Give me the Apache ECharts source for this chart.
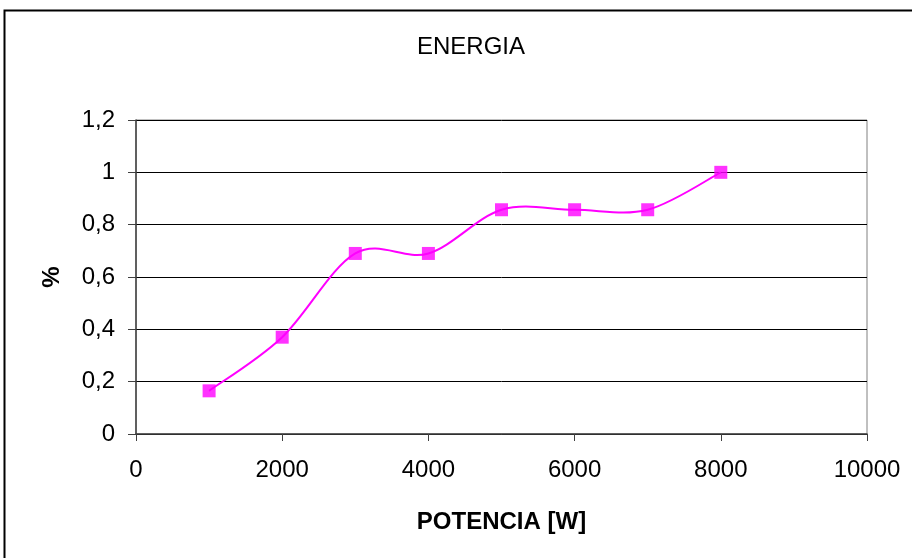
<!DOCTYPE html>
<html><head><meta charset="utf-8">
<script src="https://cdn.jsdelivr.net/npm/echarts@6/dist/echarts.min.js"></script>
<style>html,body{margin:0;padding:0;background:#fff}#c{width:912px;height:558px}</style>
</head><body><div id="c"></div>
<script>
const title = 'ENERGIA';
const xName = 'POTENCIA [W]';
const yName = '%';
const potencia = [1000, 2000, 3000, 4000, 5000, 6000, 7000, 8000];
const energia = [0.165, 0.37, 0.69, 0.69, 0.857, 0.857, 0.857, 1.0];

const chart = echarts.init(document.getElementById('c'));
const font = "'Liberation Sans', Arial, sans-serif";

// Excel-style (Catmull-Rom) smoothed line through the data, via axis coordinates
function renderSmooth(params, api) {
  const pts = potencia.map((x, i) => api.coord([x, energia[i]]));
  let d = 'M' + pts[0][0] + ' ' + pts[0][1];
  for (let i = 0; i < pts.length - 1; i++) {
    const p0 = pts[Math.max(i - 1, 0)], p1 = pts[i], p2 = pts[i + 1], p3 = pts[Math.min(i + 2, pts.length - 1)];
    const c1x = p1[0] + (p2[0] - p0[0]) / 6, c1y = p1[1] + (p2[1] - p0[1]) / 6;
    const c2x = p2[0] - (p3[0] - p1[0]) / 6, c2y = p2[1] - (p3[1] - p1[1]) / 6;
    d += ' C' + c1x + ' ' + c1y + ' ' + c2x + ' ' + c2y + ' ' + p2[0] + ' ' + p2[1];
  }
  return {type: 'path', shape: {pathData: d},
    style: {fill: null, stroke: '#ff00ff', lineWidth: 2}};
}

chart.setOption({
  animation: false,
  backgroundColor: '#fff',
  title: {text: title, left: 466, top: 30, textAlign: 'center',
    textStyle: {fontFamily: font, fontSize: 24, fontWeight: 'normal', color: '#000'}},
  grid: {left: 136, right: 45, top: 120, bottom: 124, show: true, borderColor: '#808080', borderWidth: 1},
  graphic: [{type: 'rect', shape: {x: 4.5, y: 10.5, width: 920, height: 560},
    style: {fill: null, stroke: '#000', lineWidth: 2}, silent: true}],
  xAxis: {type: 'value', min: 0, max: 10000, interval: 2000,
    name: xName, nameLocation: 'middle', nameGap: 76,
    nameTextStyle: {fontFamily: font, fontSize: 24, fontWeight: 'bold', color: '#000'},
    axisLine: {onZero: false, lineStyle: {color: '#404040', width: 1.5}},
    axisTick: {show: true, length: 7, lineStyle: {color: '#404040'}},
    axisLabel: {fontFamily: font, fontSize: 24, color: '#000', margin: 24,
      formatter: v => String(v)},
    splitLine: {show: false}},
  yAxis: {type: 'value', min: 0, max: 1.2, interval: 0.2,
    name: yName, nameLocation: 'middle', nameGap: 72, nameRotate: 90,
    nameTextStyle: {fontFamily: font, fontSize: 24, fontWeight: 'bold', color: '#000'},
    axisLine: {show: true, lineStyle: {color: '#404040', width: 1.5}},
    axisTick: {show: true, length: 8, lineStyle: {color: '#404040'}},
    axisLabel: {fontFamily: font, fontSize: 24, color: '#000', margin: 21,
      formatter: v => String(Math.round(v * 10) / 10).replace('.', ',')},
    splitLine: {show: true, lineStyle: {color: '#000', width: 1}}},
  series: [
    {type: 'custom', renderItem: renderSmooth, data: [[potencia[0], energia[0]]], z: 2, silent: true},
    {type: 'scatter', data: potencia.map((x, i) => [x, energia[i]]),
      symbol: 'rect', symbolSize: 13, itemStyle: {color: '#ff00ff'}, z: 3}
  ]
});
</script></body></html>
